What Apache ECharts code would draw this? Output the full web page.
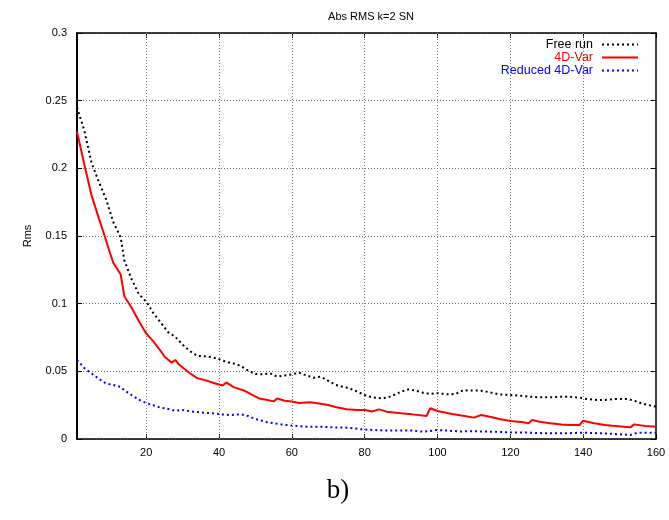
<!DOCTYPE html>
<html>
<head>
<meta charset="utf-8">
<script src="https://cdn.jsdelivr.net/npm/echarts@6/dist/echarts.min.js"></script>
<style>
html,body{margin:0;padding:0;background:#fff;}
#chart{width:669px;height:520px;}
</style>
</head>
<body>
<div id="chart"></div>
<script>
// ---- data ----
const xTicks = [20, 40, 60, 80, 100, 120, 140, 160];
const xGrid = [20, 40, 60, 80, 100, 120, 140];
const seriesNames = ['Free run', '4D-Var', 'Reduced 4D-Var'];

const xFree = [1,3,5,7,9,11,13,14,15,16,18,20,22,24,26,28,30,32,34,36,38,40,42,44,46,48,50,52,54,56,58,60,62,64,66,68,70,72,75,77,80,82,85,87,90,92,94,96,98,100,103,105,107,110,112,114,117,120,123,125,128,131,134,136,139,141,144,146,149,152,154,156,159,160];
const yFree = [0.245,0.228,0.204,0.19,0.177,0.16,0.149,0.132,0.125,0.118,0.107,0.1015,0.093,0.086,0.079,0.0755,0.0697,0.065,0.0615,0.0611,0.0605,0.059,0.057,0.0558,0.054,0.0505,0.048,0.0478,0.0486,0.046,0.047,0.0478,0.049,0.047,0.0453,0.046,0.043,0.040,0.038,0.0362,0.0325,0.0308,0.030,0.0313,0.035,0.0367,0.0357,0.0342,0.0333,0.0338,0.033,0.0333,0.036,0.0358,0.0357,0.0347,0.033,0.0325,0.032,0.0313,0.0308,0.0308,0.0313,0.0313,0.0305,0.0296,0.0288,0.0288,0.0296,0.0296,0.0283,0.0264,0.0244,0.024];

const xVar = [1,3,5,7,8,10,11,13,14,16,18,20,22,24,25,27,28,29,32,34,37,39,41,42,44,47,49,51,53,55,56,58,60,62,65,67,70,72,75,78,80,82,84,86,90,93,97,98,100,104,107,110,112,115,117,120,123,125,126,128,131,134,136,139,140,143,146,148,151,153,154,157,160];
const yVar = [0.227,0.203,0.18,0.163,0.155,0.138,0.130,0.1215,0.1055,0.097,0.087,0.078,0.072,0.065,0.061,0.0564,0.0584,0.055,0.0486,0.045,0.0428,0.041,0.0395,0.0418,0.0383,0.0357,0.0328,0.030,0.029,0.0278,0.030,0.0283,0.0277,0.0266,0.0271,0.0264,0.0251,0.0236,0.022,0.0214,0.0214,0.0203,0.0219,0.0202,0.019,0.0182,0.017,0.0227,0.0207,0.0185,0.0172,0.0158,0.0177,0.016,0.0148,0.0133,0.0126,0.0116,0.014,0.0128,0.0116,0.0108,0.0103,0.0103,0.0135,0.0116,0.0103,0.0098,0.0091,0.0086,0.0108,0.0096,0.0091];

const xRed = [1,3,5,7,9,11,12,13,14,16,18,20,22,24,26,28,30,33,36,38,41,43,46,48,50,53,55,57,60,64,68,71,75,79,82,86,90,93,96,100,103,106,110,115,120,125,130,135,140,145,150,153,155,160];
const yRed = [0.0584,0.0525,0.0484,0.0445,0.041,0.0399,0.0392,0.0385,0.036,0.0325,0.029,0.0266,0.0249,0.0231,0.0222,0.0209,0.0214,0.0202,0.0194,0.019,0.0181,0.0177,0.0182,0.017,0.0148,0.0126,0.0116,0.0108,0.0099,0.0091,0.0091,0.0086,0.0084,0.0072,0.0067,0.0062,0.0062,0.0062,0.0054,0.0066,0.0062,0.0056,0.0057,0.0054,0.0049,0.0047,0.0042,0.0042,0.0047,0.0042,0.0035,0.003,0.0047,0.0047];

const yTickStep = 0.05;

function zip(xs, ys){ return xs.map((x,i)=>[x, ys[i]]); }

const chart = echarts.init(document.getElementById('chart'), null, {renderer:'canvas'});
const FONT = 'Liberation Sans';
const GRID_STYLE = {color:'#777', type:[1,2], width:1};

function legendFor(name, color, top){
  return {
    data:[{name:name, textStyle:{color:color}}],
    right: 30, top: top, align:'right', orient:'vertical',
    itemWidth: 36, itemHeight: 10, padding:0,
    itemStyle:{opacity:0},
    textStyle:{fontFamily:FONT, fontSize:12.5, color:color, padding:[0,4,0,0]},
    selectedMode:false
  };
}

chart.setOption({
  animation:false,
  backgroundColor:'#fff',
  title:[
    {text:'Abs RMS k=2 SN', left:366, top:6, textAlign:'center',
     textStyle:{fontFamily:FONT, fontSize:11, fontWeight:'normal', color:'#000'}},
    {text:'b)', left:333, top:472, textAlign:'center',
     textStyle:{fontFamily:'Liberation Serif', fontSize:27, fontWeight:'normal', color:'#000'}}
  ],
  legend:[
    legendFor(seriesNames[0], '#000', 38),
    legendFor(seriesNames[1], '#ff0000', 51),
    legendFor(seriesNames[2], '#0000ff', 64)
  ],
  grid:{left:77, right:13, top:33, bottom:81, containLabel:false},
  xAxis:[{
    type:'value', min:1, max:160, position:'bottom',
    axisLine:{show:true, lineStyle:{color:'#000', width:1.5}},
    axisTick:{show:true, inside:true, length:5, customValues:xTicks, lineStyle:{color:'#000'}},
    axisLabel:{show:true, customValues:xTicks, color:'#000', fontFamily:FONT, fontSize:11, margin:8},
    splitLine:{show:false}
  },{
    type:'value', min:1, max:160, position:'top',
    axisLine:{show:true, onZero:false, lineStyle:{color:'#000', width:1.5}},
    axisTick:{show:true, inside:true, length:5, customValues:xTicks, lineStyle:{color:'#000'}},
    axisLabel:{show:false},
    splitLine:{show:false}
  }],
  yAxis:[{
    type:'value', min:0, max:0.3, interval:yTickStep, position:'left',
    name:'Rms', nameLocation:'middle', nameGap:44, nameRotate:90,
    nameTextStyle:{fontFamily:FONT, fontSize:11, color:'#000'},
    axisLine:{show:true, lineStyle:{color:'#000', width:2}},
    axisTick:{show:true, inside:true, length:5, lineStyle:{color:'#000'}},
    axisLabel:{color:'#000', fontFamily:FONT, fontSize:11, margin:10,
      formatter:v=>String(+v.toFixed(2))},
    splitLine:{show:true, lineStyle:GRID_STYLE}
  },{
    type:'value', min:0, max:0.3, interval:yTickStep, position:'right',
    axisLine:{show:true, onZero:false, lineStyle:{color:'#000', width:1.5}},
    axisTick:{show:true, inside:true, length:5, lineStyle:{color:'#000'}},
    axisLabel:{show:false},
    splitLine:{show:false}
  }],
  series:[
    {name:seriesNames[0], type:'line', data:zip(xFree,yFree), symbol:'none', z:3,
     lineStyle:{color:'#000', width:2, type:[2,3]}, itemStyle:{color:'#000'},
     markLine:{silent:true, symbol:['none','none'], label:{show:false}, z:1,
       lineStyle:GRID_STYLE, emphasis:{disabled:true},
       data:xGrid.map(v=>({xAxis:v}))}},
    {name:seriesNames[1], type:'line', data:zip(xVar,yVar), symbol:'none', z:4,
     lineStyle:{color:'#ff0000', width:2}, itemStyle:{color:'#ff0000'}},
    {name:seriesNames[2], type:'line', data:zip(xRed,yRed), symbol:'none', z:2,
     lineStyle:{color:'#0000ff', width:2, type:[2,3]}, itemStyle:{color:'#0000ff'}}
  ]
});
</script>
</body>
</html>
